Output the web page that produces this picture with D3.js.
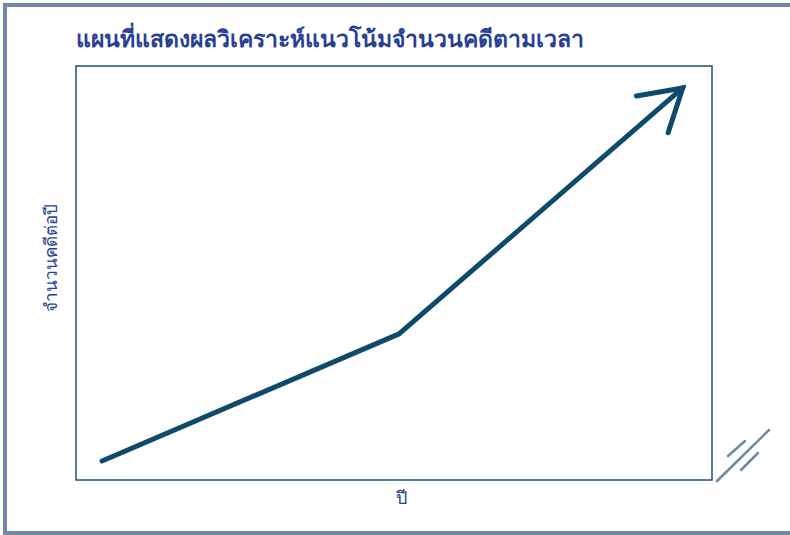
<!DOCTYPE html>
<html lang="th">
<head>
    <meta charset="UTF-8"/>
    <title>แนวโน้มจำนวนคดี</title>
    <script src="https://d3js.org/d3.v7.min.js"></script>
    <style>
        body { margin: 0; background: #fff; }
    </style>
</head>
<body>
<div id="chart"></div>
<script>
    // chart data (no ticks shown, positions)
    const titleText = "แผนที่แสดงผลวิเคราะห์แนวโน้มจำนวนคดีตามเวลา";
    const xLabel = "ปี";
    const yLabel = "จำนวนคดีต่อปี";
    const timeSteps = [4.1, 50.8, 95.4];
    const caseCounts = [4.6, 35.3, 94.7];

    const width = 790, height = 535;
    const margin = {top: 66, right: 78, bottom: 55, left: 76};
    const gW = width - margin.left - margin.right;
    const gH = height - margin.top - margin.bottom;

    const svg = d3.select("#chart")
        .append("svg")
        .attr("width", width)
        .attr("height", height);

    // outer frame (left, top, bottom only)
    const frameColor = "#7189a6";
    svg.append("path")
        .attr("d", "M5,535 L5,5 L790,5 M5,533 L790,533")
        .attr("fill", "none")
        .attr("stroke", frameColor)
        .attr("stroke-width", 4);

    // title
    svg.append("text")
        .attr("x", margin.left)
        .attr("y", 47)
        .style("font-family", "'Noto Sans', sans-serif")
        .style("font-size", "23px")
        .style("font-weight", "bold")
        .style("fill", "#283f95")
        .text(titleText);

    const g = svg.append("g").attr("transform", `translate(${margin.left}, ${margin.top})`);

    g.append("rect")
        .attr("width", gW)
        .attr("height", gH)
        .attr("fill", "none")
        .attr("stroke", "#1d5178")
        .attr("stroke-width", 1.5);

    const x = d3.scaleLinear().domain([0, 100]).range([0, gW]);
    const y = d3.scaleLinear().domain([0, 100]).range([gH, 0]);

    const pts = timeSteps.map((t, i) => [x(t), y(caseCounts[i])]);
    const lineColor = "#0e4a6b";

    g.append("path")
        .datum(pts)
        .attr("d", d3.line())
        .attr("fill", "none")
        .attr("stroke", lineColor)
        .attr("stroke-width", 5)
        .attr("stroke-linecap", "round")
        .attr("stroke-linejoin", "round");

    // arrow head at the last point
    const tip = pts[pts.length - 1], prev = pts[pts.length - 2];
    const back = Math.atan2(prev[1] - tip[1], prev[0] - tip[0]);
    const arm = 47, spread = 31 * Math.PI / 180;
    const a1 = [tip[0] + arm * Math.cos(back - spread), tip[1] + arm * Math.sin(back - spread)];
    const a2 = [tip[0] + arm * Math.cos(back + spread), tip[1] + arm * Math.sin(back + spread)];
    g.append("path")
        .attr("d", d3.line()([a1, tip, a2]))
        .attr("fill", "none")
        .attr("stroke", lineColor)
        .attr("stroke-width", 5)
        .attr("stroke-linecap", "round")
        .attr("stroke-linejoin", "miter");

    // axis labels
    svg.append("text")
        .attr("x", 401)
        .attr("y", 504)
        .style("font-family", "'Noto Sans', sans-serif")
        .style("font-size", "18px")
        .style("fill", "#283f95")
        .style("text-anchor", "middle")
        .text(xLabel);

    svg.append("text")
        .attr("transform", "translate(57, 258) rotate(-90)")
        .style("font-family", "'Noto Sans', sans-serif")
        .style("font-size", "17px")
        .style("fill", "#283f95")
        .style("text-anchor", "middle")
        .text(yLabel);

    // axis break marks bottom right
    const br = svg.append("g")
        .attr("stroke", "#7189a6")
        .attr("stroke-width", 2.5)
        .attr("stroke-linecap", "round");
    br.append("line").attr("x1", 717).attr("y1", 481).attr("x2", 769).attr("y2", 430);
    br.append("line").attr("x1", 728).attr("y1", 456).attr("x2", 745).attr("y2", 441);
    br.append("line").attr("x1", 741).attr("y1", 470).attr("x2", 758).attr("y2", 453);
</script>
</body>
</html>
